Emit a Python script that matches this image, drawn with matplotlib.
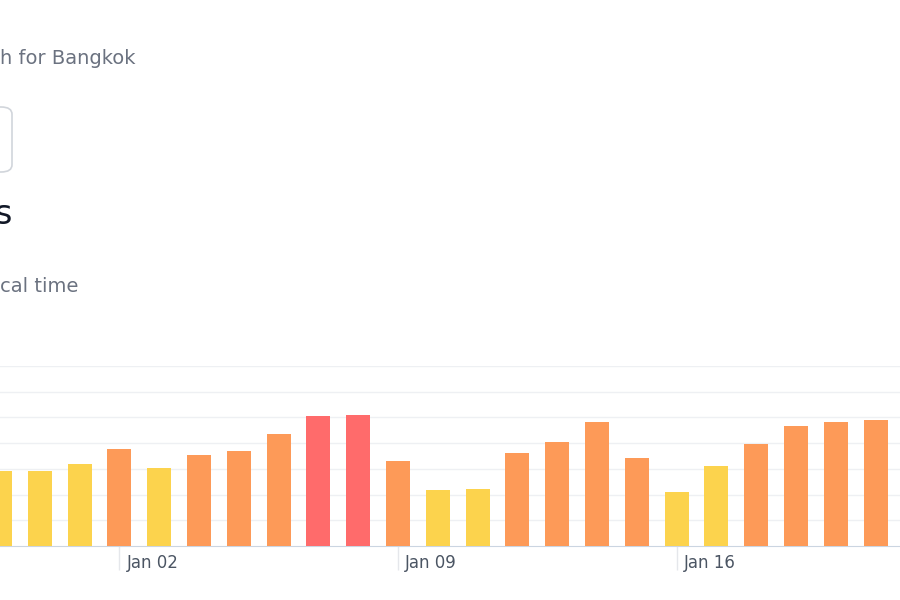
import matplotlib.pyplot as plt
from matplotlib.patches import FancyBboxPatch

days = ["Dec 30", "Dec 31", "Jan 01", "Jan 02", "Jan 03", "Jan 04", "Jan 05", "Jan 06",
        "Jan 07", "Jan 08", "Jan 09", "Jan 10", "Jan 11", "Jan 12", "Jan 13", "Jan 14",
        "Jan 15", "Jan 16", "Jan 17", "Jan 18", "Jan 19", "Jan 20", "Jan 21"]
values = [2.92, 2.92, 3.2, 3.77, 3.03, 3.54, 3.70, 4.36, 5.06, 5.10, 3.3, 2.18,
          2.22, 3.62, 4.05, 4.82, 3.42, 2.10, 3.11, 3.97, 4.67, 4.82, 4.90]
tick_days = ["Jan 02", "Jan 09", "Jan 16"]

YELLOW, ORANGE, RED = "#fcd34d", "#fd9a58", "#ff6b6b"


def bar_color(v):
    if v < 3.25:
        return YELLOW
    if v > 5.0:
        return RED
    return ORANGE


fig = plt.figure(figsize=(9, 6), dpi=100)
fig.patch.set_facecolor("white")

# header texts (cropped page)
fig.text(0, 1 - 58 / 600, "h for Bangkok", fontsize=14, color="#6b7280", va="center")
fig.text(-0.006, 1 - 214 / 600, "s", fontsize=24, color="#111827", va="center")
fig.text(0, 1 - 287 / 600, "cal time", fontsize=14, color="#6b7280", va="center")
box = FancyBboxPatch((-60 / 900, 1 - 172 / 600), 72 / 900, 65 / 600,
                     boxstyle="round,pad=0,rounding_size=0.012", transform=fig.transFigure,
                     facecolor="white", edgecolor="#d1d5db", linewidth=1.2)
fig.patches.append(box)

ax = fig.add_axes([0, 54 / 600, 1, 180 / 600])
x = list(range(len(days)))
ax.bar(x, values, width=0.6, color=[bar_color(v) for v in values], zorder=3)
ax.set_xlim(0, 900 / 39.8)
ax.set_ylim(0, 7)
ax.set_yticks(range(1, 8))
ax.yaxis.grid(True, color="#eef0f3", linewidth=1, zorder=0)
ax.tick_params(axis="y", left=False, labelleft=False)
for s in ["top", "right", "left"]:
    ax.spines[s].set_visible(False)
ax.spines["bottom"].set_color("#cbd5e1")

ticks = [days.index(d) for d in tick_days]
ax.set_xticks(ticks)
ax.set_xticklabels([])
ax.tick_params(axis="x", length=17, color="#e5e7eb", width=1)
for t, lab in zip(ticks, tick_days):
    ax.text(t + 0.18, -0.66, lab, fontsize=12, color="#4b5563", ha="left", va="center")

fig.savefig("out.png", dpi=100, facecolor="white")
